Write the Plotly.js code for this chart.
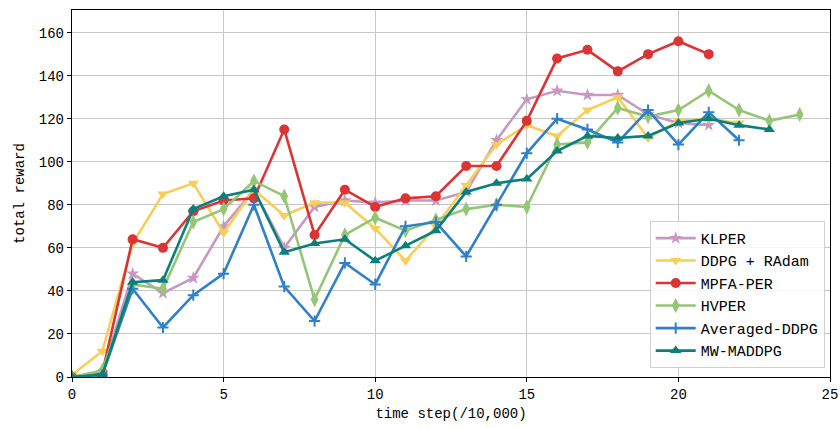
<!DOCTYPE html>
<html>
<head>
<meta charset="utf-8">
<script src="https://cdn.plot.ly/plotly-3.0.1.min.js"></script>
<style>html,body{margin:0;padding:0;background:#fff;}#chart{width:840px;height:428px;}</style>
</head>
<body>
<div id="chart"></div>
<script>
const seriesNames = ["KLPER", "DDPG + RAdam", "MPFA-PER", "HVPER", "Averaged-DDPG", "MW-MADDPG"];
const klper = [0, 2, 48, 39, 46, 70, 87, 60, 79, 82, 81, 82, 82, 86, 110, 129, 133, 131, 131, 122, 118, 117];
const ddpgRadam = [1, 12, 62, 85, 90, 67, 87, 75, 81, 81, 69, 54, 70, 89, 108, 117, 112, 124, 130, 111, 119, 120, 118];
const mpfaPer = [0, 2, 64, 60, 77, 82, 83, 115, 66, 87, 79, 83, 84, 98, 98, 119, 148, 152, 142, 150, 156, 150];
const hvper = [0, 3, 43, 41, 72, 78, 91, 84, 36, 66, 74, 68, 73, 78, 80, 79, 108, 109, 125, 121, 124, 133, 124, 119, 122];
const averagedDdpg = [0, 1, 41, 23, 38, 48, 80, 42, 26, 53, 43, 70, 72, 56, 80, 104, 120, 115, 109, 124, 108, 123, 110];
const mwMaddpg = [0, 1, 44, 45, 78, 84, 87, 58, 62, 64, 54, 61, 68, 86, 90, 92, 105, 112, 111, 112, 118, 120, 117, 115];
const xTicks = [0, 5, 10, 15, 20, 25];
const yTicks = [0, 20, 40, 60, 80, 100, 120, 140, 160];

const allY = [klper, ddpgRadam, mpfaPer, hvper, averagedDdpg, mwMaddpg];
const colors = ["#C799C2", "#F6CF5A", "#DB3434", "#94C675", "#2F80C8", "#0B7F7C"];
const symbols = ["star", "triangle-down", "circle", "diamond-tall", "cross-thin-open", "triangle-up"];
const msizes = [10, 10, 10, 11, 8, 10];

const font = "Liberation Mono, DejaVu Sans Mono, monospace";
const traces = allY.map((ys, i) => ({
  x: ys.map((_, k) => k),
  y: ys,
  name: seriesNames[i],
  type: "scatter",
  mode: "lines+markers",
  line: {color: colors[i], width: 2.6},
  marker: {symbol: symbols[i], size: msizes[i], color: colors[i], line: {color: colors[i], width: i === 4 ? 2 : 0}}
}));

const layout = {
  width: 840, height: 428,
  margin: {l: 72, r: 10, t: 10, b: 51},
  paper_bgcolor: "#fff", plot_bgcolor: "#fff",
  font: {family: font, size: 14, color: "#000"},
  showlegend: true,
  legend: {
    x: 0.993, y: 0.025, xanchor: "right", yanchor: "bottom",
    bgcolor: "rgba(255,255,255,0.85)", bordercolor: "#d0d0d0", borderwidth: 1,
    font: {family: font, size: 15, color: "#000"},
    itemwidth: 40, tracegroupgap: 0
  },
  xaxis: {
    range: [0, 25], tickvals: xTicks, ticktext: xTicks.map(String),
    showgrid: true, gridcolor: "#c8c8c8", gridwidth: 1,
    showline: true, linecolor: "#000", linewidth: 1.2, mirror: true,
    ticks: "outside", ticklen: 4, tickcolor: "#000",
    zeroline: false,
    title: {text: "time step(/10,000)", font: {family: font, size: 14}, standoff: 6}
  },
  yaxis: {
    range: [0, 170.5], tickvals: yTicks, ticktext: yTicks.map(String),
    showgrid: true, gridcolor: "#c8c8c8", gridwidth: 1,
    showline: true, linecolor: "#000", linewidth: 1.2, mirror: true,
    ticks: "outside", ticklen: 4, tickcolor: "#000",
    zeroline: false,
    title: {text: "total reward", font: {family: font, size: 14}, standoff: 10}
  }
};

Plotly.newPlot("chart", traces, layout, {displayModeBar: false, staticPlot: true});
</script>
</body>
</html>
